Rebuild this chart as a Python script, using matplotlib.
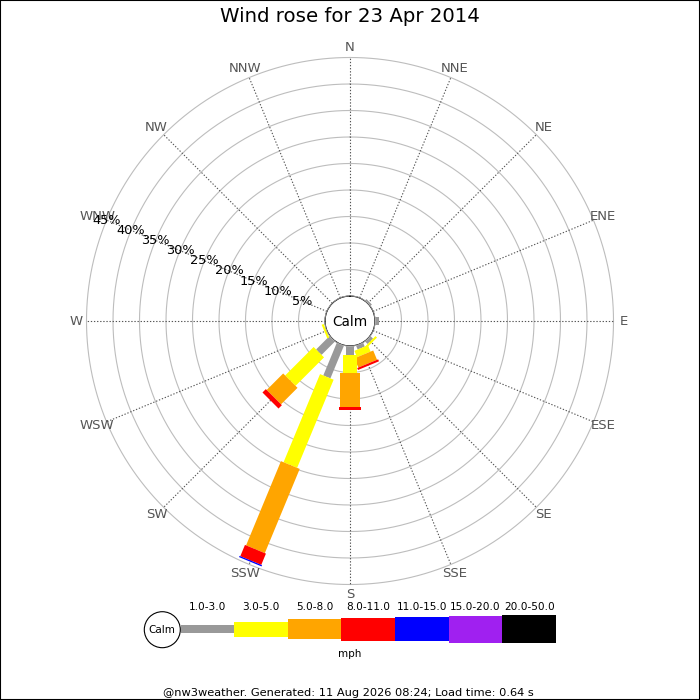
import numpy as np
import matplotlib
matplotlib.use("Agg")
import matplotlib.pyplot as plt
from matplotlib.patches import Polygon, Circle, Rectangle

# ---------------- data ----------------
directions = ["N", "NNE", "NE", "ENE", "E", "ESE", "SE", "SSE",
              "S", "SSW", "SW", "WSW", "W", "WNW", "NW", "NNW"]
speed_classes = ["1.0-3.0", "3.0-5.0", "5.0-8.0", "8.0-11.0",
                 "11.0-15.0", "15.0-20.0", "20.0-50.0"]
# percent of time per direction per speed class
freq_1_3   = [0, 0, 0.4, 0, 0.8, 0, 0.7, 0.8, 1.7, 6.7, 3.6, 0.1, 0, 0, 0, 0]
freq_3_5   = [0, 0, 0,   0, 0,   0, 0.4, 1.3, 3.45, 18.0, 7.6, 0.4, 0, 0, 0, 0]
freq_5_8   = [0, 0, 0,   0, 0,   0, 0,   1.9, 6.3, 17.2, 4.4, 0, 0, 0, 0, 0]
freq_8_11  = [0, 0, 0,   0, 0,   0, 0,   0.4, 0.65, 2.3, 0.9, 0, 0, 0, 0, 0]
freq_11_15 = [0, 0, 0,   0, 0,   0, 0,   0,   0,   0.25, 0, 0, 0, 0, 0, 0]
freq_15_20 = [0] * 16
freq_20_50 = [0] * 16
pct_ticks = [5, 10, 15, 20, 25, 30, 35, 40, 45]
title = "Wind rose for 23 Apr 2014"
footer = "@nw3weather. Generated: 11 Aug 2026 08:24; Load time: 0.64 s"

# ---------------- style ----------------
colors = ["#999999", "#ffff00", "#ffa500", "#ff0000", "#0000ff", "#a020f0", "#000000"]
bar_px = [7.7, 14.7, 20.3, 22.7, 24.3, 26.7, 28.3]   # bar thickness in pixels

series = [freq_1_3, freq_3_5, freq_5_8, freq_8_11, freq_11_15, freq_15_20, freq_20_50]

W = H = 700
fig = plt.figure(figsize=(7, 7), dpi=100)
fig.patch.set_facecolor("white")

cx, cy = 350, 321          # centre in pixels (from top)
R_out = 263.5              # outer ring radius px
calm_px = 25.0             # calm circle radius px
rmax = 45
r0 = calm_px * rmax / (R_out - calm_px)   # origin offset in data units
k = R_out / (rmax + r0)                   # px per percent

ax = fig.add_axes([(cx - R_out) / W, (H - cy - R_out) / H, 2 * R_out / W, 2 * R_out / H],
                  projection="polar")
ax.set_theta_zero_location("N")
ax.set_theta_direction(-1)
ax.set_ylim(0, rmax)
ax.set_rorigin(-r0)
ax.grid(False)
ax.set_xticks([])
ax.set_yticks([])
for sp in ax.spines.values():
    sp.set_visible(False)
ax.patch.set_alpha(0)

angles = np.deg2rad(np.arange(16) * 22.5)
tt = np.linspace(0, 2 * np.pi, 721)

# rings
for r in [0] + pct_ticks:
    ax.plot(tt, np.full_like(tt, r), color="#bdbdbd", lw=0.8, zorder=1, clip_on=False)
# spokes
for a in angles:
    ax.plot([a, a], [0, rmax], color="#555555", lw=0.8,
            linestyle=(0, (1.2, 1.6)), zorder=1, clip_on=False)

# bars as rectangles of constant pixel thickness
def rect_poly(theta0, start, end, hw):
    R1, R2 = start + r0, end + r0
    ts = np.linspace(R1, R2, 30)
    pts = []
    for t in ts:
        pts.append((theta0 + np.arctan2(hw, t), np.hypot(t, hw) - r0))
    for t in ts[::-1]:
        pts.append((theta0 - np.arctan2(hw, t), np.hypot(t, hw) - r0))
    return pts

for i, a in enumerate(angles):
    base = 0.0
    for j, s in enumerate(series):
        v = s[i]
        if v > 0:
            hw = bar_px[j] / 2 / k
            poly = Polygon(rect_poly(a, base, base + v, hw), closed=True,
                           facecolor=colors[j], edgecolor="none", zorder=3)
            ax.add_patch(poly)
            base += v

# calm circle
ax.add_patch(Circle((0.5, 0.5), calm_px / (2 * R_out), transform=ax.transAxes,
                    facecolor="white", edgecolor="#bdbdbd", lw=0.8, zorder=4))
ax.text(0.5, 0.499, "Calm", transform=ax.transAxes, ha="center", va="center",
        fontsize=9.8, color="black", zorder=5)

# compass labels
for a, lab in zip(angles, directions):
    ax.text(a, 46.9, lab, ha="center", va="center", fontsize=9.5,
            color="#555555", zorder=5)

# percent labels along WNW
for p in pct_ticks:
    ax.text(np.deg2rad(292.5), p, f"{p}%", ha="center", va="center",
            fontsize=9.3, color="black", zorder=6)

# title & footer
fig.text(0.5, 1 - 17 / H, title, ha="center", va="center", fontsize=14.2)
fig.text(0.497, 1 - 693 / H, footer, ha="center", va="center", fontsize=8.2)

# ---------------- legend ----------------
lax = fig.add_axes([0, 0, 1, 1])
lax.set_xlim(0, W)
lax.set_ylim(H, 0)
lax.axis("off")
lx0, seg_w, ly = 180.5, 53.65, 629.2
xs = lx0 + seg_w * np.arange(len(speed_classes)) + seg_w / 2
lax.bar(xs, bar_px, width=seg_w, bottom=[ly - h / 2 for h in bar_px],
        color=colors, edgecolor="none", zorder=2)
for x, lab in zip(xs, speed_classes):
    lax.text(x, 607.5, lab, ha="center", va="center", fontsize=7.6)
lax.add_patch(Circle((162.3, 629.7), 18, facecolor="white", edgecolor="black",
                     lw=0.8, zorder=3))
lax.text(162.3, 630, "Calm", ha="center", va="center", fontsize=7.5, zorder=4)
lax.text(350, 654, "mph", ha="center", va="center", fontsize=7.5)

# figure border
fig.patches.append(Rectangle((0, 0), 1, 1, transform=fig.transFigure,
                             fill=False, edgecolor="black", lw=1.5))

fig.savefig("out.png", dpi=100)
